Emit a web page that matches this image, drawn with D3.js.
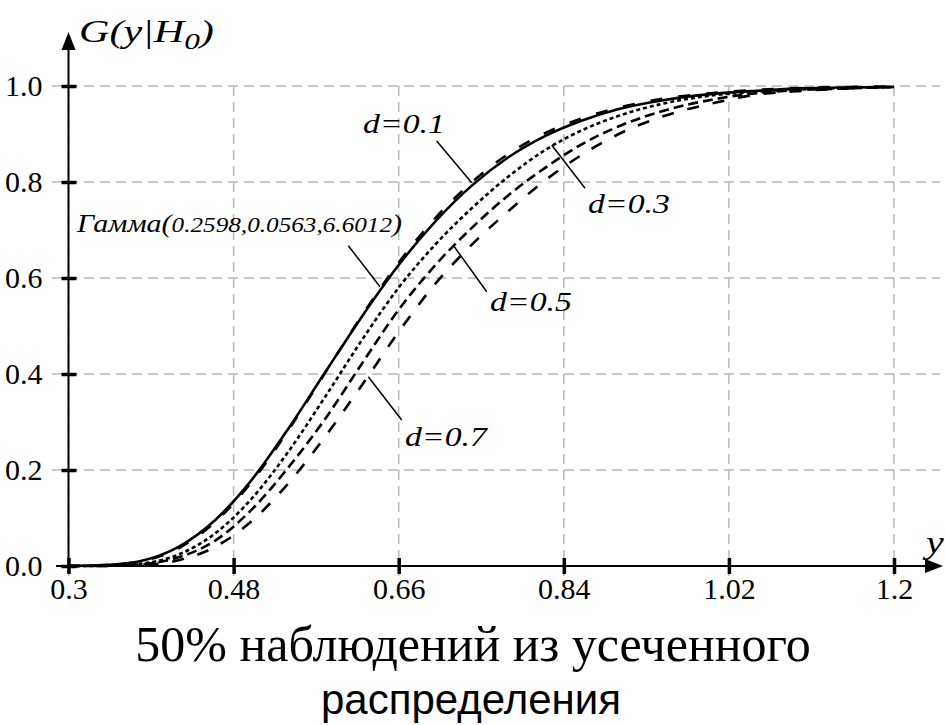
<!DOCTYPE html>
<html>
<head>
<meta charset="utf-8">
<script src="https://cdn.jsdelivr.net/npm/d3@7"></script>
<style>
  body { margin: 0; background: #fff; }
  svg { display: block; }
</style>
</head>
<body>
<div id="chart"></div>
<script>
// Chart Params
var svgWidth = 945;
var svgHeight = 725;

var xVals = [0.30, 0.34, 0.38, 0.42, 0.46, 0.50, 0.54, 0.58, 0.62, 0.66, 0.70,
             0.74, 0.78, 0.82, 0.86, 0.90, 0.95, 1.00, 1.05, 1.10, 1.15, 1.20];

var gammaVals = [0, 0.002, 0.011, 0.040, 0.096, 0.180, 0.287, 0.404, 0.520, 0.627, 0.718,
                 0.793, 0.852, 0.896, 0.928, 0.952, 0.971, 0.983, 0.990, 0.995, 0.997, 0.998];
var d01Vals = [0, 0.002, 0.010, 0.037, 0.092, 0.176, 0.284, 0.403, 0.522, 0.632, 0.725,
               0.800, 0.859, 0.902, 0.933, 0.955, 0.974, 0.985, 0.992, 0.996, 0.998, 0.999];
var d03Vals = [0, 0.0005, 0.005, 0.024, 0.068, 0.141, 0.239, 0.353, 0.471, 0.580, 0.670,
               0.746, 0.812, 0.867, 0.908, 0.938, 0.964, 0.980, 0.988, 0.993, 0.996, 0.998];
var d05Vals = [0, 0.0002, 0.0035, 0.018, 0.053, 0.118, 0.206, 0.307, 0.422, 0.534, 0.627,
               0.705, 0.773, 0.830, 0.879, 0.916, 0.949, 0.971, 0.985, 0.992, 0.995, 0.998];
var d07Vals = [0, 0.0001, 0.002, 0.012, 0.040, 0.094, 0.173, 0.270, 0.377, 0.488, 0.588,
               0.670, 0.740, 0.804, 0.857, 0.900, 0.938, 0.963, 0.982, 0.990, 0.995, 0.998];

var xTicks = [0.3, 0.48, 0.66, 0.84, 1.02, 1.2];
var yTicks = [0, 0.2, 0.4, 0.6, 0.8, 1.0];

var serif = "'Liberation Serif', 'Times New Roman', serif";

var svg = d3.select("#chart")
  .append("svg")
  .attr("width", svgWidth)
  .attr("height", svgHeight);

var xScale = d3.scaleLinear().domain([0.3, 1.2]).range([68.5, 894]);
var yScale = d3.scaleLinear().domain([0, 1]).range([566, 86]);

// grid
var grid = svg.append("g")
  .attr("stroke", "#b8b8b8")
  .attr("stroke-width", 1.5)
  .attr("stroke-dasharray", "10,6");

grid.selectAll(".vgrid")
  .data(xTicks)
  .enter()
  .append("line")
  .attr("x1", d => xScale(d))
  .attr("x2", d => xScale(d))
  .attr("y1", yScale(1))
  .attr("y2", 582);

grid.selectAll(".hgrid")
  .data(yTicks.slice(1))
  .enter()
  .append("line")
  .attr("x1", 52)
  .attr("x2", 940)
  .attr("y1", d => yScale(d))
  .attr("y2", d => yScale(d));

// axes
var bottomAxis = d3.axisBottom(xScale)
  .tickValues(xTicks)
  .tickSize(0)
  .tickPadding(12)
  .tickFormat(d => d);

var leftAxis = d3.axisLeft(yScale)
  .tickValues(yTicks)
  .tickSize(0)
  .tickPadding(26)
  .tickFormat(d3.format(".1f"));

var xAxis = svg.append("g")
  .attr("transform", `translate(0, ${yScale(0)})`)
  .call(bottomAxis)
  .attr("font-family", serif);
xAxis.select(".domain").remove();
xAxis.selectAll(".tick text")
  .attr("font-family", serif)
  .attr("font-size", "30px")
  .attr("fill", "#000")
  .attr("dy", "0.71em");
xAxis.selectAll(".tick")
  .append("line")
  .attr("y1", -8)
  .attr("y2", 8)
  .attr("stroke", "#000")
  .attr("stroke-width", 3.5);

var yAxis = svg.append("g")
  .attr("transform", `translate(${xScale(0.3)}, 0)`)
  .call(leftAxis)
  .attr("font-family", serif);
yAxis.select(".domain").remove();
yAxis.selectAll(".tick text")
  .attr("font-family", serif)
  .attr("font-size", "30px")
  .attr("fill", "#000");
yAxis.selectAll(".tick")
  .append("line")
  .attr("x1", -7)
  .attr("x2", 8)
  .attr("stroke", "#000")
  .attr("stroke-width", 3.5);

// axis lines with arrows
svg.append("line")
  .attr("x1", 56).attr("x2", 930)
  .attr("y1", yScale(0)).attr("y2", yScale(0))
  .attr("stroke", "#000").attr("stroke-width", 2);
svg.append("path")
  .attr("d", `M943,${yScale(0)} L925,${yScale(0) - 7} L925,${yScale(0) + 7} Z`)
  .attr("fill", "#000");
svg.append("line")
  .attr("x1", xScale(0.3)).attr("x2", xScale(0.3))
  .attr("y1", yScale(0)).attr("y2", 45)
  .attr("stroke", "#000").attr("stroke-width", 2);
svg.append("path")
  .attr("d", `M${xScale(0.3)},32 L${xScale(0.3) - 7},50 L${xScale(0.3) + 7},50 Z`)
  .attr("fill", "#000");

// curves
var line = d3.line()
  .x((d, i) => xScale(xVals[i]))
  .y(d => yScale(d))
  .curve(d3.curveMonotoneX);

var series = [
  { vals: d07Vals, dash: "12,14" },
  { vals: d05Vals, dash: "10,5" },
  { vals: d03Vals, dash: "4,3" },
  { vals: gammaVals, dash: null },
  { vals: d01Vals, dash: "12,16" }
];

series.forEach(s => {
  svg.append("path")
    .datum(s.vals)
    .attr("d", line)
    .attr("fill", "none")
    .attr("stroke", "#000")
    .attr("stroke-width", 2.6)
    .attr("stroke-dasharray", s.dash);
});

// leader lines
var leaders = [
  [436.7, 141, 471.7, 182.7],
  [348.3, 245.7, 380, 286.7],
  [551.7, 145, 585, 188.3],
  [454.3, 246.7, 486.7, 291.7],
  [368.3, 376.7, 401.7, 420]
];
svg.selectAll(".leader")
  .data(leaders)
  .enter()
  .append("line")
  .attr("x1", d => d[0]).attr("y1", d => d[1])
  .attr("x2", d => d[2]).attr("y2", d => d[3])
  .attr("stroke", "#000")
  .attr("stroke-width", 1.5);

// annotation labels (the original italic text is a bit stretched sideways)
var labels = [
  { text: "d=0.1", x: 363, y: 133 },
  { text: "d=0.3", x: 588, y: 213 },
  { text: "d=0.5", x: 490, y: 311 },
  { text: "d=0.7", x: 405, y: 446 }
];
svg.selectAll(".lbl")
  .data(labels)
  .enter()
  .append("text")
  .attr("transform", d => `translate(${d.x}, ${d.y}) scale(1.25, 1)`)
  .attr("font-family", serif)
  .attr("font-style", "italic")
  .attr("font-size", "27px")
  .text(d => d.text);

var gLabel = svg.append("text")
  .attr("transform", "translate(77, 232) scale(1.2, 1)")
  .attr("font-family", serif)
  .attr("font-style", "italic")
  .attr("font-size", "25px");
gLabel.append("tspan").text("Гамма(");
gLabel.append("tspan").attr("font-size", "21px").text("0.2598,0.0563,6.6012");
gLabel.append("tspan").text(")");

// axis titles
var yTitle = svg.append("text")
  .attr("transform", "translate(79, 42) scale(1.36, 1)")
  .attr("font-family", serif)
  .attr("font-style", "italic")
  .attr("font-size", "31px");
yTitle.append("tspan").text("G(y|H");
yTitle.append("tspan").attr("dy", 7).attr("font-size", "23px").text("0");
yTitle.append("tspan").attr("dy", -7).text(")");

svg.append("text")
  .attr("transform", "translate(926, 553) scale(1.25, 1)")
  .attr("font-family", serif)
  .attr("font-style", "italic")
  .attr("font-size", "32px")
  .text("y");

// bottom caption
svg.append("text")
  .attr("x", 473)
  .attr("y", 661)
  .attr("text-anchor", "middle")
  .attr("font-family", serif)
  .attr("font-size", "50px")
  .text("50% наблюдений из усеченного");

svg.append("text")
  .attr("x", 471)
  .attr("y", 714)
  .attr("text-anchor", "middle")
  .attr("font-family", "'Liberation Sans', Arial, sans-serif")
  .attr("font-size", "42px")
  .text("распределения");
</script>
</body>
</html>
